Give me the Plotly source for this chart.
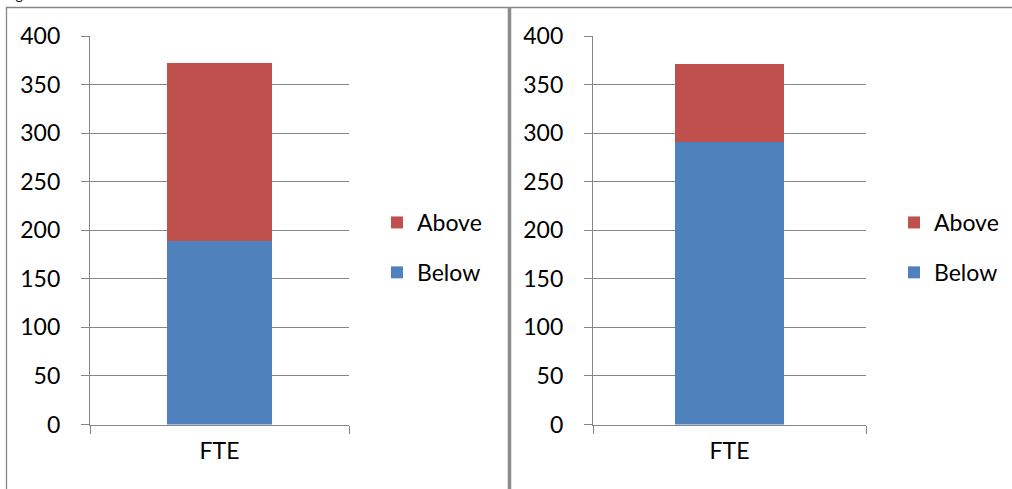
import plotly.graph_objects as go

categories = ["FTE"]
left_below = [189]
left_above = [183]
right_below = [291]
right_above = [80]
series_names = ["Below", "Above"]
y_ticks = [0, 50, 100, 150, 200, 250, 300, 350, 400]

RED = "#C0504D"
BLUE = "#4F81BD"
GRID = "#868686"
FONT = "Lato"
W, H = 1012, 489

def px(x):
    return x / W

def py(y):
    return 1 - y / H

fig = go.Figure()

bar_line = dict(width=0)
fig.add_trace(go.Bar(x=categories, y=left_below, name=series_names[0], marker_color=BLUE,
                     marker_line=bar_line, xaxis="x", yaxis="y", legend="legend",
                     legendgroup="b1", legendrank=2, width=0.405))
fig.add_trace(go.Bar(x=categories, y=left_above, name=series_names[1], marker_color=RED,
                     marker_line=bar_line, xaxis="x", yaxis="y", legend="legend",
                     legendgroup="a1", legendrank=1, width=0.405))
fig.add_trace(go.Bar(x=categories, y=right_below, name=series_names[0], marker_color=BLUE,
                     marker_line=bar_line, xaxis="x2", yaxis="y2", legend="legend2",
                     legendgroup="b2", legendrank=2, width=0.4))
fig.add_trace(go.Bar(x=categories, y=right_above, name=series_names[1], marker_color=RED,
                     marker_line=bar_line, xaxis="x2", yaxis="y2", legend="legend2",
                     legendgroup="a2", legendrank=1, width=0.4))

ydom = [py(424.5), py(36)]
xaxis_common = dict(showline=True, linecolor=GRID, linewidth=1.3, ticks="outside", ticklen=8,
                    tickcolor=GRID, tickwidth=1.3, tickson="boundaries", showgrid=False,
                    tickfont=dict(family=FONT, size=23, color="#000"), ticklabelstandoff=6,
                    fixedrange=True)
yaxis_common = dict(range=[0, 400], tickvals=y_ticks, showline=True, linecolor=GRID, linewidth=1.3,
                    ticks="outside", ticklen=8, tickcolor=GRID, tickwidth=1.3, showgrid=True,
                    gridcolor=GRID, gridwidth=1.3, zeroline=False,
                    tickfont=dict(family=FONT, size=23, color="#000"), ticklabelstandoff=16,
                    domain=ydom)

legend_common = dict(font=dict(family=FONT, size=23, color="#000"), traceorder="grouped",
                     tracegroupgap=17, bgcolor="rgba(0,0,0,0)", xanchor="left", yanchor="top")

fig.update_layout(
    width=W, height=H,
    margin=dict(l=0, r=0, t=0, b=0, autoexpand=False),
    paper_bgcolor="white", plot_bgcolor="white",
    barmode="stack",
    showlegend=True,
    xaxis=dict(domain=[px(90), px(349)], anchor="y", **xaxis_common),
    yaxis=dict(anchor="x", **yaxis_common),
    xaxis2=dict(domain=[px(593), px(866)], anchor="y2", **xaxis_common),
    yaxis2=dict(anchor="x2", **yaxis_common),
    legend=dict(x=px(377), y=py(201), **legend_common),
    legend2=dict(x=px(894), y=py(201), **legend_common),
    shapes=[
        dict(type="line", xref="paper", yref="paper", x0=px(6), x1=1, y0=py(7.5), y1=py(7.5),
             line=dict(color=GRID, width=1.3)),
        dict(type="line", xref="paper", yref="paper", x0=px(6.5), x1=px(6.5), y0=py(7), y1=0,
             line=dict(color=GRID, width=1.3)),
        dict(type="line", xref="paper", yref="paper", x0=px(509.5), x1=px(509.5), y0=py(7), y1=0,
             line=dict(color="#8C8C8C", width=3.5)),
    ],
    annotations=[
        dict(text="segment total.", xref="paper", yref="paper", x=0, y=py(5), xanchor="left",
             yanchor="bottom", showarrow=False, font=dict(family=FONT, size=14, color="#000")),
    ],
)

fig.write_html("out.html")
